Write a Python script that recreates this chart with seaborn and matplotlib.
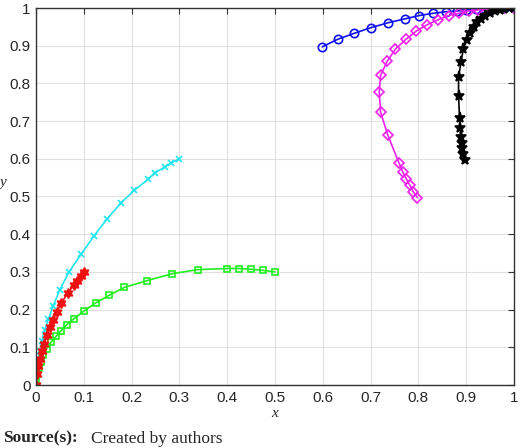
import numpy as np
import pandas as pd
import seaborn as sns
import matplotlib.pyplot as plt

# trajectories
cyan_x = [0.3, 0.283, 0.269, 0.248, 0.235, 0.206, 0.178, 0.149, 0.121, 0.095, 0.069, 0.05, 0.036, 0.026, 0.018, 0.012, 0.008, 0.005, 0.003, 0.001, 0.0]
cyan_y = [0.6, 0.589, 0.578, 0.562, 0.546, 0.517, 0.483, 0.441, 0.395, 0.348, 0.3, 0.253, 0.21, 0.175, 0.145, 0.117, 0.09, 0.065, 0.043, 0.02, 0.0]

red_x = [0.1, 0.094, 0.085, 0.079, 0.067, 0.053, 0.044, 0.036, 0.029, 0.022, 0.017, 0.012, 0.008, 0.005, 0.002, 0.0]
red_y = [0.3, 0.289, 0.275, 0.266, 0.244, 0.218, 0.194, 0.173, 0.153, 0.133, 0.11, 0.09, 0.07, 0.05, 0.03, 0.0]

green_x = [0.5, 0.475, 0.45, 0.425, 0.4, 0.338, 0.284, 0.233, 0.185, 0.153, 0.125, 0.101, 0.079, 0.064, 0.052, 0.042, 0.031, 0.022, 0.015, 0.01, 0.006, 0.003, 0.001, 0.0]
green_y = [0.3, 0.304, 0.307, 0.309, 0.309, 0.306, 0.295, 0.277, 0.259, 0.238, 0.218, 0.197, 0.175, 0.16, 0.144, 0.129, 0.113, 0.096, 0.08, 0.06, 0.045, 0.03, 0.015, 0.0]

blue_x = [0.599, 0.631, 0.666, 0.701, 0.737, 0.771, 0.802, 0.831, 0.857, 0.88, 0.9, 0.92, 0.94, 0.96, 0.98, 1.0]
blue_y = [0.897, 0.917, 0.933, 0.948, 0.961, 0.971, 0.98, 0.986, 0.99, 0.992, 0.995, 0.997, 0.998, 0.999, 1.0, 1.0]

mag_x = [0.798, 0.789, 0.782, 0.775, 0.767, 0.759, 0.736, 0.721, 0.718, 0.721, 0.735, 0.752, 0.774, 0.796, 0.819, 0.84, 0.863, 0.884, 0.905, 0.925, 0.945, 0.965, 0.98, 1.0]
mag_y = [0.497, 0.513, 0.53, 0.546, 0.566, 0.59, 0.663, 0.723, 0.778, 0.822, 0.859, 0.891, 0.917, 0.939, 0.956, 0.968, 0.98, 0.986, 0.992, 0.995, 0.997, 0.999, 1.0, 1.0]

black_x = [0.897, 0.894, 0.892, 0.891, 0.889, 0.887, 0.886, 0.884, 0.884, 0.889, 0.894, 0.901, 0.908, 0.916, 0.923, 0.93, 0.94, 0.95, 0.96, 0.97, 0.98, 0.99, 1.0]
black_y = [0.597, 0.612, 0.628, 0.641, 0.658, 0.681, 0.709, 0.767, 0.816, 0.856, 0.891, 0.915, 0.935, 0.95, 0.963, 0.972, 0.98, 0.986, 0.991, 0.995, 0.998, 0.999, 1.0]

ticks = np.round(np.arange(0, 1.01, 0.1), 1)
tick_labels = ["0"] + [f"{t:g}" for t in ticks[1:]]

sns.set_style("whitegrid")
plt.rcParams['font.family'] = ['Liberation Sans', 'DejaVu Sans']

fig = plt.figure(figsize=(5.2, 4.48), dpi=100)
ax = fig.add_axes([36 / 520, 63 / 448, 478 / 520, 377 / 448])

series = [
    (cyan_x, cyan_y, '#22e5ee', 'x', 'full', 5),
    (green_x, green_y, '#22ee22', 's', 'none', 5),
    (red_x, red_y, '#ee1111', (6, 1, 0), 'full', 7),
    (blue_x, blue_y, '#1010ee', 'o', 'none', 6),
    (mag_x, mag_y, '#ee22ee', 'D', 'none', 5),
    (black_x, black_y, 'black', '*', 'full', 8),
]
for xs, ys, col, mk, fill, ms in series:
    df = pd.DataFrame({'x': xs, 'y': ys})
    sns.lineplot(data=df, x='x', y='y', sort=False, estimator=None, ax=ax,
                 color=col, lw=1.2, marker=mk, fillstyle=fill, markersize=ms,
                 markeredgecolor=col, markeredgewidth=1.2)

ax.set_xlim(0, 1)
ax.set_ylim(0, 1)
ax.set_xticks(ticks)
ax.set_yticks(ticks)
ax.set_xticklabels(tick_labels, fontsize=11)
ax.set_yticklabels(tick_labels, fontsize=11)
ax.grid(color='#e0e0e0', lw=0.8)
for s in ax.spines.values():
    s.set_color('#333333')
    s.set_linewidth(1.0)
ax.tick_params(direction='in', top=True, right=True, length=4, pad=4, color='#333333')
ax.set_xlabel('x', fontsize=11, style='italic', family='Liberation Serif', labelpad=2)
ax.set_ylabel('y', fontsize=11, style='italic', family='Liberation Serif', rotation=0, labelpad=2)
ax.yaxis.set_label_coords(-0.07, 0.52)

fig.text(0.005, 0.012, 'Source(s):', fontsize=12.5, weight='bold', family='Liberation Serif')
fig.text(0.175, 0.012, 'Created by authors', fontsize=12.5, family='Liberation Serif')

fig.savefig('out.png', dpi=100)
